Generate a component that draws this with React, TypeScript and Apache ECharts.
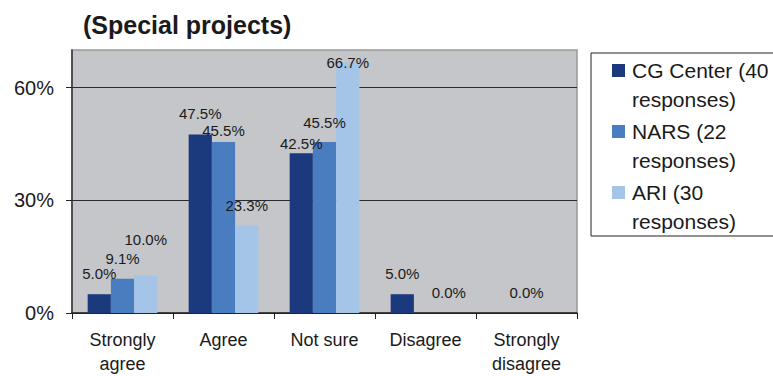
import React, { useEffect, useRef } from "react";
import * as echarts from "echarts";

const categories = ["Strongly agree", "Agree", "Not sure", "Disagree", "Strongly disagree"];
const seriesNames = ["CG Center (40 responses)", "NARS (22 responses)", "ARI (30 responses)"];
const cgCenter = [5.0, 47.5, 42.5, 5.0, 0.0];
const nars = [9.1, 45.5, 45.5, 0.0, 0.0];
const ari = [10.0, 23.3, 66.7, 0.0, 0.0];
const yTicks = [0, 30, 60];
const yMax = 70;

const colors = ["#1B3A7D", "#4A7DBF", "#A5C5E8"];
const FONT = "'Liberation Sans', Arial, sans-serif";
const TEXT = "#1a1a1a";

// label styling (which labels are drawn and how far above bar top they sit)
const labelShown = [
  [true, true, true, true, false],
  [true, true, true, false, true],
  [true, true, true, true, false],
];
const labelLift = [
  [21, 21, 10, 21, 21],
  [20, 12, 20, 21, 21],
  [36, 20, 0, 21, 21],
];

export default function App() {
  const ref = useRef<HTMLDivElement>(null);
  useEffect(() => {
    if (!ref.current) return;
    const chart = echarts.init(ref.current, undefined, { renderer: "svg" });
    const allValues = [cgCenter, nars, ari];
    const series = allValues.map((vals, si) => ({
      name: seriesNames[si],
      type: "bar",
      barGap: "0%",
      barCategoryGap: "31%",
      itemStyle: { color: colors[si] },
      label: {
        show: true,
        position: "top",
        distance: 0,
        fontSize: 15,
        lineHeight: 16,
        color: TEXT,
        fontFamily: FONT,
        formatter: (p: any) => Number(p.value).toFixed(1) + "%",
      },
      data: vals.map((v, i) => ({
        value: v,
        label: { show: labelShown[si][i], offset: [0, 8 - labelLift[si][i]] },
      })),
    }));
    chart.setOption({
      animation: false,
      backgroundColor: "#ffffff",
      title: {
        text: "(Special projects)",
        left: 83,
        top: 12,
        padding: 0,
        textStyle: { fontSize: 25, fontWeight: "bold", color: TEXT, fontFamily: FONT },
      },
      legend: {
        orient: "vertical",
        left: 591,
        top: 53,
        padding: [3, 20, 0, 21],
        itemGap: 3,
        itemWidth: 15,
        itemHeight: 42,
        icon: "path://M0,0H13V13H0Z M0,42H15",
        itemStyle: { borderWidth: 0 },
        borderColor: "#222",
        borderWidth: 1,
        backgroundColor: "#fff",
        selectedMode: false,
        textStyle: { fontSize: 21, lineHeight: 29, color: TEXT, fontFamily: FONT },
        formatter: (name: string) => name.replace(" responses)", "\nresponses)"),
        data: seriesNames,
      },
      grid: {
        left: 72,
        right: 196,
        top: 50,
        bottom: 62,
        show: true,
        backgroundColor: "#C5C6CA",
        borderColor: "#999",
        borderWidth: 1.5,
      },
      xAxis: {
        type: "category",
        data: categories,
        axisLine: { show: true, lineStyle: { color: "#222", width: 1.5 } },
        axisTick: { show: true, alignWithLabel: false, length: 6, lineStyle: { color: "#222" } },
        axisLabel: {
          margin: 15,
          fontSize: 18,
          lineHeight: 24,
          color: TEXT,
          fontFamily: FONT,
          interval: 0,
          formatter: (v: string) => v.replace("Strongly ", "Strongly\n"),
        },
      },
      yAxis: {
        type: "value",
        min: yTicks[0],
        max: yMax,
        interval: yTicks[1] - yTicks[0],
        axisLine: { show: true, lineStyle: { color: "#333", width: 1.5 } },
        axisTick: { show: true, length: 6, lineStyle: { color: "#222" }, customValues: yTicks },
        axisLabel: {
          margin: 18,
          fontSize: 20,
          color: TEXT,
          fontFamily: FONT,
          customValues: yTicks,
          formatter: (v: number) => v + "%",
        },
        splitLine: {
          show: true,
          lineStyle: { color: "#2a2a2a", width: 1 },
        },
      },
      series,
    } as any);
    return () => chart.dispose();
  }, []);
  return (
    <div
      ref={ref}
      style={{ position: "absolute", left: 0, top: 0, width: 773, height: 376, background: "#fff" }}
    />
  );
}
